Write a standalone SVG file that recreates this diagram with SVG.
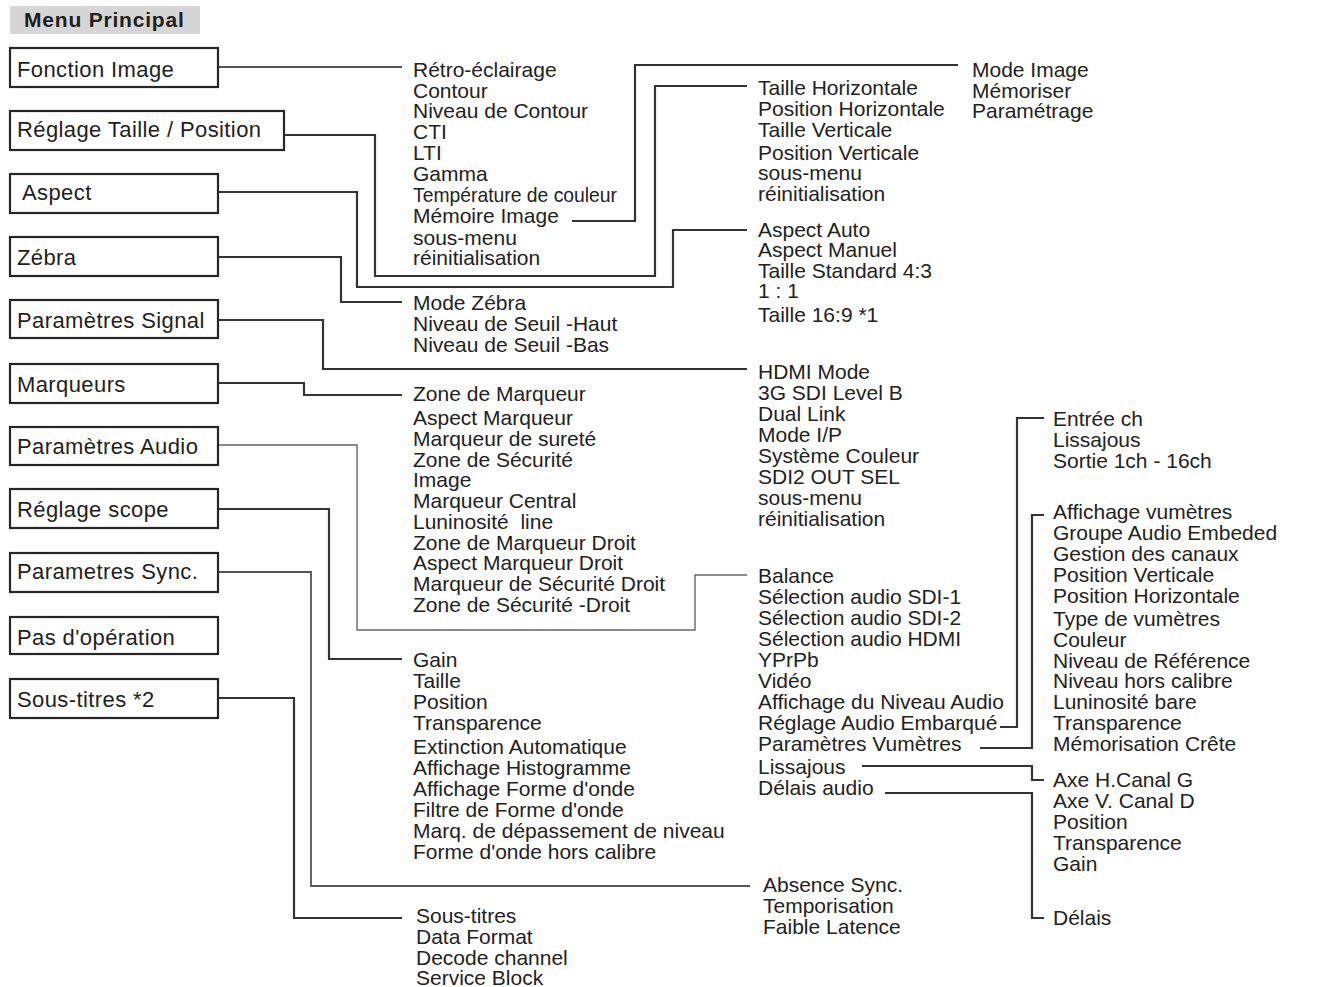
<svg xmlns="http://www.w3.org/2000/svg" width="1340" height="987" viewBox="0 0 1340 987">
<style>
.bx{fill:#fff;stroke:#262626;stroke-width:2.2}
.bl{font-family:"Liberation Sans",Arial,sans-serif;font-size:22px;letter-spacing:0.4px;fill:#1e1e1e}
.it{font-family:"Liberation Sans",Arial,sans-serif;font-size:21px;fill:#222;white-space:pre}
.c{fill:none;stroke:#333;stroke-width:2.2}
.t{fill:none;stroke:#666;stroke-width:1.4}
.m{fill:none;stroke:#555;stroke-width:1.8}
</style>
<rect width="1340" height="987" fill="#fff"/>
<g id="header">
<rect x="10" y="6" width="190" height="28" fill="#d6d6d6"/>
<text x="24" y="27" font-family="'Liberation Sans',Arial,sans-serif" font-size="21" font-weight="bold" letter-spacing="0.8" fill="#1e1e1e">Menu Principal</text>
</g>
<g id="connectors">
<path class="m" d="M218 67 H402"/>
<path class="c" d="M284 135 H375 V276 H655 V86 H747"/>
<path class="c" d="M218 192 H357 V287 H673 V230 H747"/>
<path class="c" d="M218 257 H341 V302 H402"/>
<path class="c" d="M218 320 H323 V369 H747"/>
<path class="c" d="M218 383 H304 V395 H402"/>
<path class="t" d="M218 445 H357 V630 H695 V575 H747"/>
<path class="c" d="M218 509 H329 V659 H402"/>
<path class="m" d="M218 572 H311 V886 H750"/>
<path class="c" d="M218 698 H294 V918 H402"/>
<path class="c" d="M572 221 H635 V65 H958"/>
<path class="c" d="M1000 727 H1017 V418 H1044"/>
<path class="c" d="M980 748 H1032 V515 H1044"/>
<path class="c" d="M862 766 H1032 V780 H1044"/>
<path class="c" d="M885 793 H1032 V918 H1044"/>
</g>
<g id="n-fonction-image"><rect class="bx" x="10" y="48" width="208" height="39"/><text class="bl" x="17" y="77">Fonction Image</text></g>
<g id="n-reglage-taille"><rect class="bx" x="10" y="111" width="274" height="39"/><text class="bl" x="17" y="137">Réglage Taille / Position</text></g>
<g id="n-aspect"><rect class="bx" x="10" y="174" width="208" height="39"/><text class="bl" x="22" y="200">Aspect</text></g>
<g id="n-zebra"><rect class="bx" x="10" y="237" width="208" height="39"/><text class="bl" x="17" y="265">Zébra</text></g>
<g id="n-param-signal"><rect class="bx" x="10" y="300" width="208" height="38"/><text class="bl" x="17" y="328">Paramètres Signal</text></g>
<g id="n-marqueurs"><rect class="bx" x="10" y="364" width="208" height="39"/><text class="bl" x="17" y="392">Marqueurs</text></g>
<g id="n-param-audio"><rect class="bx" x="10" y="427" width="208" height="38"/><text class="bl" x="17" y="454">Paramètres Audio</text></g>
<g id="n-reglage-scope"><rect class="bx" x="10" y="489" width="208" height="39"/><text class="bl" x="17" y="517">Réglage scope</text></g>
<g id="n-param-sync"><rect class="bx" x="10" y="553" width="208" height="39"/><text class="bl" x="17" y="579">Parametres Sync.</text></g>
<g id="n-pas-operation"><rect class="bx" x="10" y="617" width="208" height="37"/><text class="bl" x="17" y="645">Pas d'opération</text></g>
<g id="n-sous-titres"><rect class="bx" x="10" y="679" width="208" height="39"/><text class="bl" x="17" y="707">Sous-titres *2</text></g>

<g id="l-fonction-image">
<text class="it" x="413" y="77">Rétro-éclairage</text>
<text class="it" x="413" y="98">Contour</text>
<text class="it" x="413" y="118">Niveau de Contour</text>
<text class="it" x="413" y="139">CTI</text>
<text class="it" x="413" y="160">LTI</text>
<text class="it" x="413" y="181">Gamma</text>
<text class="it" x="413" y="202" textLength="204" lengthAdjust="spacingAndGlyphs">Température de couleur</text>
<text class="it" x="413" y="223">Mémoire Image</text>
<text class="it" x="413" y="245">sous-menu</text>
<text class="it" x="413" y="265">réinitialisation</text>
</g>
<g id="l-memoire">
<text class="it" x="972" y="77">Mode Image</text>
<text class="it" x="972" y="98">Mémoriser</text>
<text class="it" x="972" y="118">Paramétrage</text>
</g>
<g id="l-reglage-taille">
<text class="it" x="758" y="95">Taille Horizontale</text>
<text class="it" x="758" y="116">Position Horizontale</text>
<text class="it" x="758" y="137">Taille Verticale</text>
<text class="it" x="758" y="160">Position Verticale</text>
<text class="it" x="758" y="180">sous-menu</text>
<text class="it" x="758" y="201">réinitialisation</text>
</g>
<g id="l-aspect">
<text class="it" x="758" y="237">Aspect Auto</text>
<text class="it" x="758" y="257">Aspect Manuel</text>
<text class="it" x="758" y="278">Taille Standard 4:3</text>
<text class="it" x="758" y="298">1 : 1</text>
<text class="it" x="758" y="322">Taille 16:9 *1</text>
</g>
<g id="l-zebra">
<text class="it" x="413" y="310">Mode Zébra</text>
<text class="it" x="413" y="331">Niveau de Seuil -Haut</text>
<text class="it" x="413" y="352">Niveau de Seuil -Bas</text>
</g>
<g id="l-signal">
<text class="it" x="758" y="379">HDMI Mode</text>
<text class="it" x="758" y="400">3G SDI Level B</text>
<text class="it" x="758" y="421">Dual Link</text>
<text class="it" x="758" y="442">Mode I/P</text>
<text class="it" x="758" y="463">Système Couleur</text>
<text class="it" x="758" y="484">SDI2 OUT SEL</text>
<text class="it" x="758" y="505">sous-menu</text>
<text class="it" x="758" y="526">réinitialisation</text>
</g>
<g id="l-marqueurs">
<text class="it" x="413" y="401">Zone de Marqueur</text>
<text class="it" x="413" y="425">Aspect Marqueur</text>
<text class="it" x="413" y="446">Marqueur de sureté</text>
<text class="it" x="413" y="467">Zone de Sécurité</text>
<text class="it" x="413" y="487">Image</text>
<text class="it" x="413" y="508">Marqueur Central</text>
<text class="it" x="413" y="529">Luninosité  line</text>
<text class="it" x="413" y="550">Zone de Marqueur Droit</text>
<text class="it" x="413" y="570">Aspect Marqueur Droit</text>
<text class="it" x="413" y="591">Marqueur de Sécurité Droit</text>
<text class="it" x="413" y="612">Zone de Sécurité -Droit</text>
</g>
<g id="l-audio">
<text class="it" x="758" y="583">Balance</text>
<text class="it" x="758" y="604">Sélection audio SDI-1</text>
<text class="it" x="758" y="625">Sélection audio SDI-2</text>
<text class="it" x="758" y="646">Sélection audio HDMI</text>
<text class="it" x="758" y="667">YPrPb</text>
<text class="it" x="758" y="688">Vidéo</text>
<text class="it" x="758" y="709">Affichage du Niveau Audio</text>
<text class="it" x="758" y="730">Réglage Audio Embarqué</text>
<text class="it" x="758" y="751">Paramètres Vumètres</text>
<text class="it" x="758" y="774">Lissajous</text>
<text class="it" x="758" y="795">Délais audio</text>
</g>
<g id="l-embarque">
<text class="it" x="1053" y="426">Entrée ch</text>
<text class="it" x="1053" y="447">Lissajous</text>
<text class="it" x="1053" y="468">Sortie 1ch - 16ch</text>
</g>
<g id="l-vumetres">
<text class="it" x="1053" y="519">Affichage vumètres</text>
<text class="it" x="1053" y="540">Groupe Audio Embeded</text>
<text class="it" x="1053" y="561">Gestion des canaux</text>
<text class="it" x="1053" y="582">Position Verticale</text>
<text class="it" x="1053" y="603">Position Horizontale</text>
<text class="it" x="1053" y="626">Type de vumètres</text>
<text class="it" x="1053" y="647">Couleur</text>
<text class="it" x="1053" y="668">Niveau de Référence</text>
<text class="it" x="1053" y="688">Niveau hors calibre</text>
<text class="it" x="1053" y="709">Luninosité bare</text>
<text class="it" x="1053" y="730">Transparence</text>
<text class="it" x="1053" y="751">Mémorisation Crête</text>
</g>
<g id="l-lissajous">
<text class="it" x="1053" y="787">Axe H.Canal G</text>
<text class="it" x="1053" y="808">Axe V. Canal D</text>
<text class="it" x="1053" y="829">Position</text>
<text class="it" x="1053" y="850">Transparence</text>
<text class="it" x="1053" y="871">Gain</text>
</g>
<g id="l-delais">
<text class="it" x="1053" y="925">Délais</text>
</g>
<g id="l-scope">
<text class="it" x="413" y="667">Gain</text>
<text class="it" x="413" y="688">Taille</text>
<text class="it" x="413" y="709">Position</text>
<text class="it" x="413" y="730">Transparence</text>
<text class="it" x="413" y="754">Extinction Automatique</text>
<text class="it" x="413" y="775">Affichage Histogramme</text>
<text class="it" x="413" y="796">Affichage Forme d'onde</text>
<text class="it" x="413" y="817">Filtre de Forme d'onde</text>
<text class="it" x="413" y="838">Marq. de dépassement de niveau</text>
<text class="it" x="413" y="859">Forme d'onde hors calibre</text>
</g>
<g id="l-sync">
<text class="it" x="763" y="892">Absence Sync.</text>
<text class="it" x="763" y="913">Temporisation</text>
<text class="it" x="763" y="934">Faible Latence</text>
</g>
<g id="l-sous-titres">
<text class="it" x="416" y="923">Sous-titres</text>
<text class="it" x="416" y="944">Data Format</text>
<text class="it" x="416" y="965">Decode channel</text>
<text class="it" x="416" y="985">Service Block</text>
</g>
</svg>
